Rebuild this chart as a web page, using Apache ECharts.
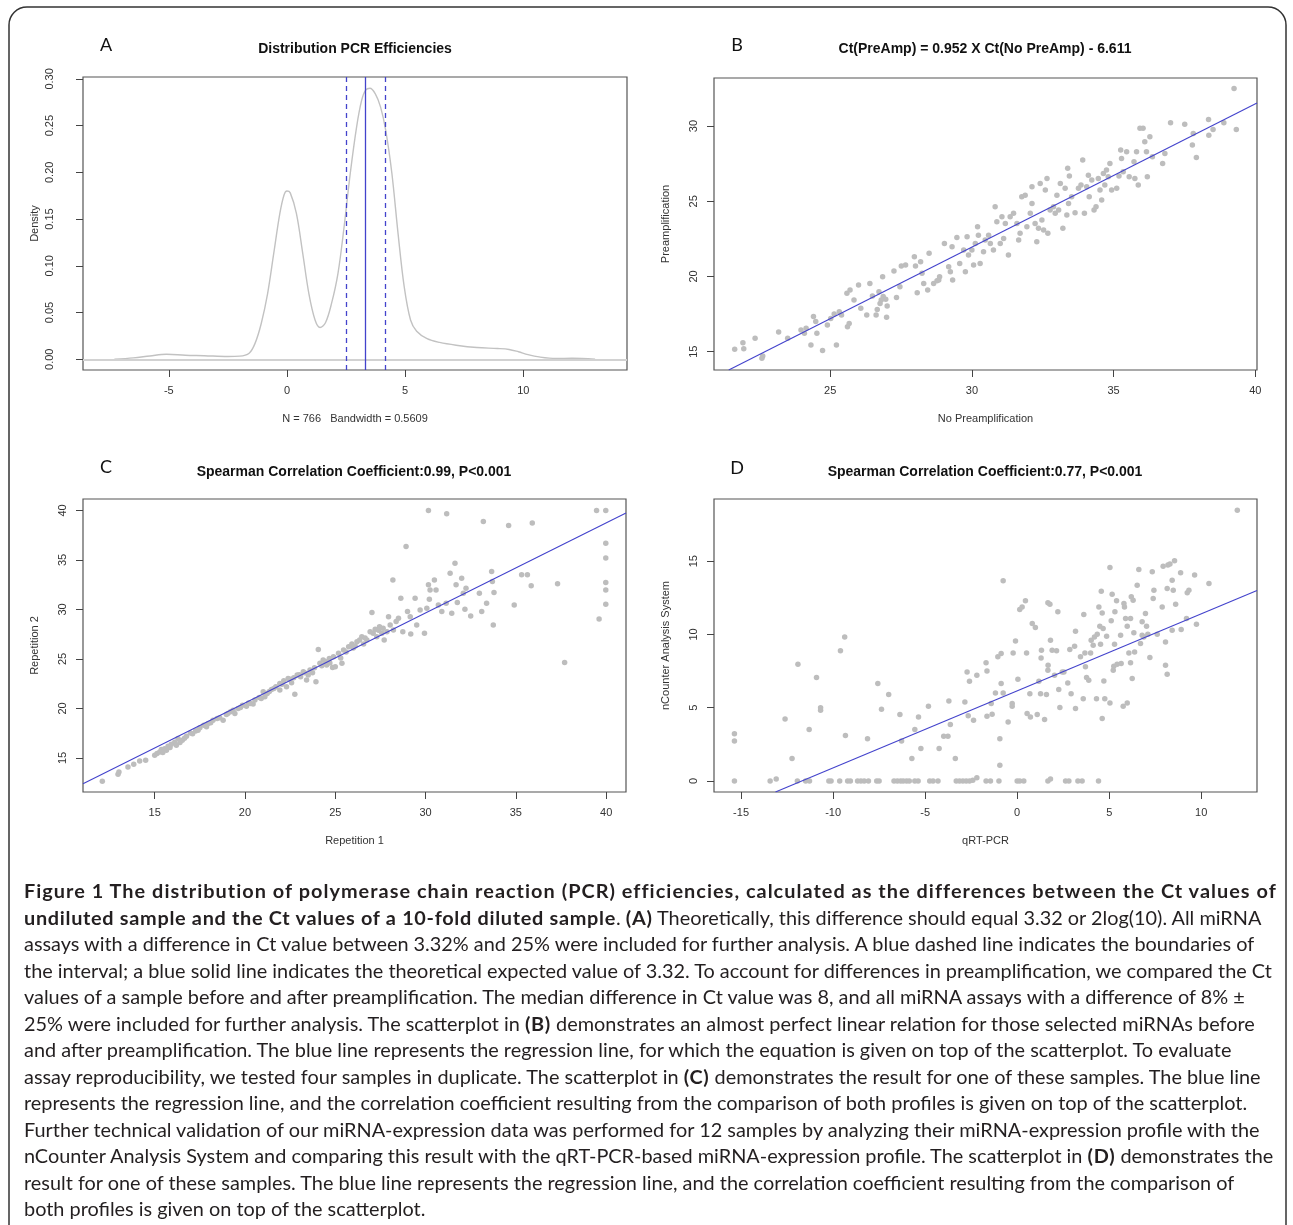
<!DOCTYPE html>
<html>
<head>
<meta charset="utf-8">
<title>Figure 1</title>
<script src="https://cdn.jsdelivr.net/npm/echarts@6/dist/echarts.min.js"></script>
<style>
  html, body { margin: 0; padding: 0; background: #fff; }
  #wrap { position: relative; width: 1293px; height: 1225px; overflow: hidden; }
  #chart { position: absolute; left: 0; top: 0; width: 1293px; height: 1225px; }
  #caption {
    position: absolute; left: 24px; top: 877px;
    font-family: Lato, "Open Sans", sans-serif; font-size: 19px; color: #231f20;
  }
  #caption .ln { height: 26.5px; line-height: 26.5px; white-space: nowrap; }
  #caption .ln span { display: inline; }
  #caption b { font-weight: 700; }
</style>
</head>
<body>
<div id="wrap">
  <div id="chart"></div>
  <div id="caption"></div>
</div>
<script>
// ---- panel A: density of PCR efficiencies ----
const densityX = [-7.3, -6.5, -5.8, -5.1, -4.3, -3.5, -2.5, -2.0, -1.6, -1.35, -1.09, -0.82, -0.56, -0.3, -0.12, 0, 0.14, 0.4, 0.67, 0.93, 1.19, 1.4, 1.63, 1.89, 2.16, 2.42, 2.68, 2.95, 3.16, 3.33, 3.51, 3.74, 3.96, 4.18, 4.44, 4.7, 4.96, 5.23, 5.49, 5.93, 6.46, 7.16, 8.04, 8.91, 9.4, 9.8, 10.2, 10.67, 11.37, 12.07, 13.04];
const densityY = [0, 0.0015, 0.0035, 0.0053, 0.0043, 0.0038, 0.003, 0.0033, 0.0064, 0.017, 0.038, 0.07, 0.113, 0.156, 0.176, 0.18, 0.178, 0.156, 0.113, 0.07, 0.042, 0.034, 0.039, 0.06, 0.092, 0.142, 0.199, 0.249, 0.277, 0.288, 0.29, 0.284, 0.27, 0.245, 0.199, 0.135, 0.078, 0.042, 0.03, 0.022, 0.018, 0.015, 0.0125, 0.0115, 0.0105, 0.008, 0.005, 0.0025, 0.0008, 0.001, 0];
const effBounds = [2.49, 4.15];
const effExpected = 3.32;
const ticksAx = [-5, 0, 5, 10];
const ticksAy = [0, 0.05, 0.1, 0.15, 0.2, 0.25, 0.3];

// ---- panel B: no preamp vs preamp ----
const preampPoints = [
  [21.63,15.16],[21.92,15.6],[21.95,15.2],[22.35,15.89],[22.62,14.71],[22.59,14.56],[23.18,16.31],[23.5,15.89],[23.97,16.44],[24.15,16.55],
  [24.09,16.22],[24.32,15.44],[24.41,17.33],[24.49,17.0],[24.53,16.22],[24.73,15.07],[24.9,16.77],[25.02,17.2],[25.14,17.5],[25.22,15.44],
  [25.32,17.66],[25.4,17.44],[25.61,16.66],[25.67,16.88],[25.59,18.88],[25.7,19.1],[25.84,18.43],[26.0,19.43],[26.08,17.88],[26.29,17.44],
  [26.4,19.54],[26.49,18.7],[26.62,17.44],[26.66,17.81],[26.72,18.99],[26.8,18.43],[26.87,18.66],[26.85,19.99],[26.99,17.28],[27.01,18.04],
  [27.25,20.36],[27.34,18.61],[27.46,19.32],[27.51,20.69],[27.66,20.76],[27.97,21.32],[28.01,20.69],[28.07,18.92],[28.19,20.98],[28.24,20.21],
  [28.3,19.54],[28.44,19.1],[28.49,21.54],[28.65,19.54],[28.83,19.76],[28.86,19.99],[29.03,22.2],[29.18,20.65],[29.24,20.32],[29.32,19.76],
  [29.3,21.98],[29.47,22.6],[29.57,20.87],[29.71,21.76],[29.77,20.32],[29.83,22.64],[29.88,21.43],[26.76,18.2],[26.96,18.48],[28.77,19.72],
  [30.2,23.31],
  [30.0,21.76],[30.06,20.76],[30.12,22.2],[30.23,22.75],[30.29,20.87],[30.41,21.65],[30.47,22.42],[30.59,22.75],[30.65,22.2],[30.76,21.76],
  [30.82,24.64],[30.88,23.64],[31.0,22.2],[31.06,23.98],[31.12,22.53],[31.18,23.53],[31.29,21.43],[31.35,23.98],[31.47,24.2],[31.59,23.53],
  [31.65,22.42],[31.7,22.87],[31.76,25.3],[31.88,25.41],[31.94,23.31],[32.06,24.2],[32.12,24.86],[32.12,25.97],[32.23,23.53],[32.29,22.31],
  [32.35,23.2],[32.41,26.19],[32.47,23.75],[32.53,23.09],[32.59,25.75],[32.65,26.52],[32.68,22.87],[32.76,24.42],[32.88,24.64],[32.94,24.2],
  [33.0,25.41],[33.06,24.42],[33.12,26.19],[33.21,23.2],[33.29,25.86],[33.35,24.09],[33.38,27.19],[33.41,24.86],[33.44,26.68],[33.52,25.3],
  [33.64,24.24],[33.76,25.86],[33.85,26.08],[33.91,27.74],[33.97,24.2],[34.05,25.97],[34.11,26.74],[34.14,25.3],[34.23,26.41],[34.31,24.42],
  [34.38,24.64],[34.46,26.52],[34.52,25.75],[34.58,25.08],[34.64,26.85],[34.69,26.08],[34.75,27.08],[34.81,26.63],[34.87,27.52],[34.93,25.75],
  [35.11,25.86],[35.19,26.68],[35.25,28.41],[35.28,27.85],[35.34,26.97],[35.46,28.29],[35.55,26.63],[35.72,27.63],[35.75,26.52],[35.81,28.29],
  [35.87,26.08],[35.93,29.85],[36.04,29.85],[36.1,28.96],[36.16,28.29],[36.19,26.63],[36.28,29.29],[36.37,27.96],[36.73,27.52],[36.81,28.18],
  [37.01,30.22],[37.51,30.13],[37.78,28.74],[37.81,29.51],[37.92,27.92],[38.35,30.44],[38.36,29.4],[38.51,29.78],[38.89,30.22],[39.25,32.5],
  [39.33,29.78]
];
const preampFit = [[21.42, 13.78], [40.06, 31.53]];
const ticksBx = [25, 30, 35, 40];
const ticksBy = [15, 20, 25, 30];

// ---- panel C: repetition 1 vs repetition 2 ----
const repPoints = [
  [12.1,12.64],[12.97,13.35],[13.02,13.58],[13.52,14.09],[13.84,14.36],[14.17,14.7],[14.5,14.76],[15.0,15.27],[15.13,15.44],[15.28,15.61],
  [15.37,15.84],[15.55,15.94],[15.65,15.78],[15.74,16.18],[15.92,16.38],[16.11,16.59],[16.2,16.28],[16.29,16.96],[16.53,16.79],[16.76,17.19],
  [16.98,17.53],[17.27,17.73],[17.5,18.04],[17.72,18.31],[17.87,18.14],[17.96,18.47],[18.23,18.81],[18.46,18.98],[18.79,18.81],[18.97,19.39],
  [19.2,19.66],[19.34,19.82],[19.44,19.49],[19.62,19.99],[19.86,20.33],[20.08,20.23],[20.3,20.5],[20.55,20.84],[20.79,21.11],[21.01,21.68],
  [21.1,21.17],[21.23,21.51],[21.47,21.92],[21.71,22.19],[21.93,21.85],[21.93,22.52],[22.15,22.79],[22.3,22.19],[22.39,23.03],[22.58,22.59],
  [22.76,21.44],[22.89,23.37],[23.08,23.2],[23.23,23.7],[23.41,22.86],[23.5,23.37],[23.6,23.87],[23.74,23.6],[23.93,22.69],[24.06,25.96],
  [24.15,24.55],[24.33,24.89],[24.52,24.38],[24.67,25.05],[24.85,24.14],
  [15.45,15.55],[15.85,16.05],[16.4,16.55],[16.65,17.0],[17.1,17.45],[17.4,17.8],[18.1,18.55],[18.6,19.05],[19.05,19.5],[19.75,20.1],
  [20.2,20.55],[20.45,20.45],[20.9,21.0],[21.35,21.7],[21.6,22.0],[22.05,22.45],[22.5,22.95],[22.7,23.1],[23.0,23.4],[23.3,23.6],
  [23.85,24.1],[24.25,24.3],[24.45,24.75],[24.7,24.6],
  [24.9,25.22],[25.0,24.21],[25.18,25.56],[25.37,24.55],[25.46,25.9],[25.74,26.23],[25.92,26.5],[26.2,26.74],[26.47,27.25],[26.57,26.5],
  [26.75,26.91],[26.93,27.75],[27.03,29.68],[27.21,27.99],[27.3,27.25],[27.45,28.26],[27.58,27.58],[27.71,26.91],[27.86,27.75],[27.95,29.27],
  [28.04,28.43],[28.19,32.98],[28.22,27.92],[28.37,28.77],[28.5,29.1],[28.63,31.13],[28.74,27.75],[28.92,36.36],[29.0,29.78],[29.15,29.27],
  [29.18,27.52],[29.42,31.13],[29.51,28.43],[29.7,29.95],[29.94,27.58],[30.07,30.12],[30.16,32.48],[30.21,31.03],[30.25,31.97],[30.16,40.0],
  [30.49,32.98],[30.58,31.97],[30.71,30.45],[30.9,29.78],[31.14,30.62],[31.17,39.66],[31.36,33.66],[31.45,29.61],[31.63,34.67],[31.69,32.48],
  [31.76,30.69],[32.0,33.15],[32.09,31.63],[32.18,30.01],[32.24,32.14],[32.5,29.34],[32.98,31.63],[33.11,29.78],[33.2,38.89],[33.38,30.62],
  [33.66,33.83],[33.7,32.81],[33.75,28.43],[33.79,31.7],[34.6,38.48],[34.91,30.45],[35.32,33.49],[35.64,33.49],[35.85,32.38],[35.91,38.72],
  [37.31,32.58],[37.7,24.65],[39.47,40.0],[39.61,29.04],[39.98,40.0],[39.98,36.69],[39.98,35.18],[39.98,32.71],[39.98,31.97],[39.98,30.52],
  [25.6,25.7],[26.0,26.1],[26.35,26.9],[26.65,27.1],[27.1,27.6],[27.4,27.9],[27.65,28.1],[26.1,26.3],[25.3,25.1]
];
const repFit = [[11.03, 12.40], [41.10, 39.74]];
const ticksCx = [15, 20, 25, 30, 35, 40];
const ticksCy = [15, 20, 25, 30, 35, 40];

// ---- panel D: qRT-PCR vs nCounter ----
const ncounterPoints = [
  [-15.36,0],[-15.36,2.73],[-15.36,3.23],[-13.42,0],[-13.09,0.14],[-12.61,4.23],[-12.23,1.53],[-11.94,0],[-11.91,7.97],[-11.49,0],
  [-11.28,0],[-11.3,3.51],[-10.9,7.06],[-10.68,4.83],[-10.68,5.0],[-10.23,0],[-10.11,0],[-9.64,0],[-9.6,8.88],[-9.37,9.83],
  [-9.33,3.1],[-9.21,0],[-9.06,0],[-8.67,0],[-8.49,0],[-8.31,0],[-8.13,2.89],[-8.08,0],[-7.63,0],[-7.5,0],
  [-7.57,6.65],[-7.37,4.89],[-6.98,5.9],[-6.69,0],[-6.51,0],[-6.37,4.53],[-6.33,0],[-6.19,0],[-6.01,0],[-5.86,0],
  [-6.28,2.73],[-5.72,1.53],[-5.56,3.51],[-5.56,0],[-5.38,0],[-5.36,4.37],[-5.23,2.21],[-4.82,5.1],[-4.75,0],[-4.57,0],
  [-4.3,0],[-4.24,2.21],[-3.99,3.05],[-3.76,3.05],[-3.71,5.46],[-3.63,3.85],[-3.36,1.53],[-3.31,0],[-3.13,0],[-2.95,0],
  [-2.77,0],[-2.59,0],[-2.41,0.05],[-2.19,0.23],[-2.84,5.39],[-2.72,7.44],[-2.59,6.81],[-2.66,4.46],[-2.37,4.14],[-2.19,7.22],
  [-1.69,8.06],[-1.64,7.51],[-1.64,4.42],[-1.69,0],[-1.45,0],[-0.99,0],
  [-1.41,5.28],[-1.36,4.55],[-1.18,6.01],[-1.05,8.47],[-0.94,2.89],[-0.94,1.07],[-0.87,6.65],[-0.87,8.7],[-0.76,13.66],[-0.76,6.01],
  [-0.49,4.03],[-0.22,8.74],[-0.27,5.28],[-0.27,5.1],[-0.09,9.56],[0,0],[0.14,0],[0.04,6.94],[0.14,11.7],[0.27,11.88],
  [0.36,0],[0.45,12.29],[0.51,8.74],[0.54,4.6],[0.72,4.37],[0.69,5.96],[0.82,10.74],[0.99,10.47],[1.09,4.53],[1.18,6.81],
  [1.27,5.96],[1.32,8.92],[1.3,8.4],[1.49,4.19],[1.59,5.9],[1.67,0],[1.81,0.14],[1.67,12.16],[1.78,12.06],[1.68,7.9],
  [1.67,7.56],[1.81,9.61],[1.9,8.92],[2.03,7.22],[2.14,8.88],[2.21,11.54],[2.26,6.24],[2.32,5.01],[2.45,7.44],[2.54,7.44],
  [2.63,0],[2.81,0],[2.75,6.69],[2.86,8.97],[2.93,5.96],[3.12,9.2],[3.17,4.94],[3.17,10.22],[3.3,0],[3.53,0],
  [3.44,8.47],[3.59,5.62],[3.62,11.36],[3.68,8.74],[3.71,7.79],[3.77,7.06],[3.89,6.87],[3.99,8.74],[4.02,9.61],[4.13,9.26],
  [4.2,9.83],[4.31,5.62],[4.35,10.02],[4.42,0],[4.44,11.88],[4.49,10.56],[4.53,9.33],[4.57,12.95],[4.62,11.47],[4.67,10.4],
  [4.71,6.83],[4.76,5.62],[4.62,4.26],[4.86,9.88],[5.04,5.33],[5.04,14.57],[5.11,10.93],[5.16,12.75],[5.22,7.56],[5.25,7.83],
  [5.29,9.33],[5.31,11.54],[5.4,12.29],[5.43,7.97],[5.62,9.95],[5.65,8.01],[5.76,5.1],[5.8,12.11],[5.83,11.88],[5.89,11.09],
  [5.98,5.33],[5.98,10.56],[6.07,8.74],[6.16,11.09],[6.16,8.06],[6.2,12.57],[6.25,6.99],[6.3,12.34],[6.34,10.11],[6.38,8.81],
  [6.52,13.36],[6.61,14.43],[6.7,9.38],[6.79,9.95],[6.79,10.86],[6.88,9.83],[6.97,11.43],[7.03,10.56],[7.1,10.02],[7.21,8.42],
  [7.34,14.27],[7.39,12.45],[7.43,13.02],[7.61,10.02],[7.88,11.88],[7.93,14.66],[8.06,9.49],[8.06,7.9],[8.15,7.28],[8.19,14.73],
  [8.15,13.13],[8.3,14.8],[8.42,13.7],[8.48,13.02],[8.55,15.02],[8.61,12.06],[8.88,14.2],[8.91,10.33],[9.24,12.84],[9.33,13.02],
  [9.2,11.09],[9.64,14.05],[9.74,10.7],[10.42,13.48],[11.96,18.48],[8.42,10.29]
];
const ncounterFit = [[-13.13, -0.75], [13.03, 13.00]];
const ticksDx = [-15, -10, -5, 0, 5, 10];
const ticksDy = [0, 5, 10, 15];

// caption lines (bold segments marked with true)
const captionLines = [
  [["Figure 1 The distribution of polymerase chain reaction (PCR) efficiencies, calculated as the differences between the Ct values of", true]],
  [["undiluted sample and the Ct values of a 10-fold diluted sample", true], [". ", false], ["(A)", true], [" Theoretically, this difference should equal 3.32 or 2log(10). All miRNA", false]],
  [["assays with a difference in Ct value between 3.32% and 25% were included for further analysis. A blue dashed line indicates the boundaries of", false]],
  [["the interval; a blue solid line indicates the theoretical expected value of 3.32. To account for differences in preamplification, we compared the Ct", false]],
  [["values of a sample before and after preamplification. The median difference in Ct value was 8, and all miRNA assays with a difference of 8% \u00b1", false]],
  [["25% were included for further analysis. The scatterplot in ", false], ["(B)", true], [" demonstrates an almost perfect linear relation for those selected miRNAs before", false]],
  [["and after preamplification. The blue line represents the regression line, for which the equation is given on top of the scatterplot. To evaluate", false]],
  [["assay reproducibility, we tested four samples in duplicate. The scatterplot in ", false], ["(C)", true], [" demonstrates the result for one of these samples. The blue line", false]],
  [["represents the regression line, and the correlation coefficient resulting from the comparison of both profiles is given on top of the scatterplot.", false]],
  [["Further technical validation of our miRNA-expression data was performed for 12 samples by analyzing their miRNA-expression profile with the", false]],
  [["nCounter Analysis System and comparing this result with the qRT-PCR-based miRNA-expression profile. The scatterplot in ", false], ["(D)", true], [" demonstrates the", false]],
  [["result for one of these samples. The blue line represents the regression line, and the correlation coefficient resulting from the comparison of", false]],
  [["both profiles is given on top of the scatterplot.", false]]
];

// ---------------------------------------------------------------
const BLUE = "#4343cc";
const PT_GRAY = "#bdbdbd";
const AX_FONT = "Liberation Sans";

const grids = [
  { left: 83, top: 77, width: 544, height: 293 },
  { left: 714, top: 78, width: 543, height: 292 },
  { left: 83, top: 499, width: 543, height: 293 },
  { left: 714, top: 499, width: 543, height: 293 }
];

function xAx(gi, min, max, ticks, name) {
  return {
    type: "value", gridIndex: gi, min, max,
    axisLine: { show: false, onZero: false },
    splitLine: { show: false },
    axisTick: { show: true, inside: false, length: 7, customValues: ticks, lineStyle: { color: "#444" } },
    axisLabel: { customValues: ticks, margin: 15, color: "#333", fontSize: 11, fontFamily: AX_FONT },
    name, nameLocation: "middle", nameGap: 43,
    nameTextStyle: { color: "#333", fontSize: 11, fontFamily: AX_FONT }
  };
}
function yAx(gi, min, max, ticks, name, fmt, margin) {
  return {
    type: "value", gridIndex: gi, min, max,
    axisLine: { show: false, onZero: false },
    splitLine: { show: false },
    axisTick: { show: true, inside: false, length: 7, customValues: ticks, lineStyle: { color: "#444" } },
    axisLabel: { customValues: ticks, rotate: 90, margin: margin || 15, color: "#333", fontSize: 11, fontFamily: AX_FONT, formatter: fmt },
    name, nameLocation: "middle", nameGap: 43, nameRotate: 90,
    nameTextStyle: { color: "#333", fontSize: 11, fontFamily: AX_FONT }
  };
}

function scatter(i, data) {
  return {
    type: "scatter", xAxisIndex: i, yAxisIndex: i, data,
    symbol: "circle", symbolSize: 5.5,
    itemStyle: { color: PT_GRAY, opacity: 1 }, silent: true
  };
}
function fitLine(i, data) {
  return {
    type: "line", xAxisIndex: i, yAxisIndex: i, data, clip: true,
    showSymbol: false, silent: true,
    lineStyle: { color: BLUE, width: 1.1 }, z: 3
  };
}

function label(x, y, text, font) {
  return { type: "text", x, y, silent: true,
    style: { text, font, fill: "#111", align: "center", verticalAlign: "middle" } };
}

const chart = echarts.init(document.getElementById("chart"), null, { renderer: "canvas" });

const option = {
  animation: false,
  backgroundColor: "#fff",
  grid: grids.map(g => Object.assign({ show: true, borderColor: "#555", borderWidth: 1.2, backgroundColor: "transparent" }, g)),
  xAxis: [
    xAx(0, -8.63, 14.39, ticksAx, "N = 766   Bandwidth = 0.5609"),
    xAx(1, 20.9, 40.06, ticksBx, "No Preamplification"),
    xAx(2, 11.03, 41.1, ticksCx, "Repetition 1"),
    xAx(3, -16.47, 13.03, ticksDx, "qRT-PCR")
  ],
  yAxis: [
    yAx(0, -0.0115, 0.302, ticksAy, "Density", v => v.toFixed(2), 28),
    yAx(1, 13.78, 33.2, ticksBy, "Preamplification"),
    yAx(2, 11.56, 41.15, ticksCy, "Repetition 2"),
    yAx(3, -0.75, 19.24, ticksDy, "nCounter Analysis System")
  ],
  series: [
    {
      type: "line", xAxisIndex: 0, yAxisIndex: 0,
      data: densityX.map((x, i) => [x, densityY[i]]),
      showSymbol: false, smooth: 0.35, silent: true,
      lineStyle: { color: "#c2c2c2", width: 1.4 },
      markLine: {
        silent: true, symbol: "none", animation: false,
        label: { show: false },
        data: [
          { yAxis: 0, lineStyle: { color: "#d2d2d2", width: 2, type: "solid" } },
          { xAxis: effBounds[0], lineStyle: { color: BLUE, width: 1.3, type: [5, 4] } },
          { xAxis: effBounds[1], lineStyle: { color: BLUE, width: 1.3, type: [5, 4] } },
          { xAxis: effExpected, lineStyle: { color: BLUE, width: 1.3, type: "solid" } }
        ]
      }
    },
    scatter(1, preampPoints), fitLine(1, preampFit),
    scatter(2, repPoints), fitLine(2, repFit),
    scatter(3, ncounterPoints), fitLine(3, ncounterFit)
  ],
  graphic: [
    { type: "rect", silent: true, shape: { x: 9, y: 7, width: 1277, height: 1260, r: 18 },
      style: { fill: "none", stroke: "#333", lineWidth: 1.5 } },
    label(106, 45, "A", "18px Lato"),
    label(737, 45, "B", "18px Lato"),
    label(106, 467, "C", "18px Lato"),
    label(737, 468, "D", "18px Lato"),
    label(355, 49, "Distribution PCR Efficiencies", "bold 14px 'Liberation Sans'"),
    label(985, 49, "Ct(PreAmp) = 0.952 X Ct(No PreAmp) - 6.611", "bold 14px 'Liberation Sans'"),
    label(354, 472, "Spearman Correlation Coefficient:0.99, P<0.001", "bold 14px 'Liberation Sans'"),
    label(985, 472, "Spearman Correlation Coefficient:0.77, P<0.001", "bold 14px 'Liberation Sans'")
  ]
};
chart.setOption(option);

// caption as real text
const cap = document.getElementById("caption");
captionLines.forEach(segs => {
  const ln = document.createElement("div");
  ln.className = "ln";
  const inner = document.createElement("span");
  segs.forEach(([t, bold]) => {
    const el = document.createElement(bold ? "b" : "span");
    el.textContent = t;
    inner.appendChild(el);
  });
  ln.appendChild(inner);
  cap.appendChild(ln);
});
// scale font so the third line spans the same width as in the figure
const probe = cap.children[2].firstChild;
const w = probe.getBoundingClientRect().width;
if (w > 0) cap.style.fontSize = (19 * 1231 / w).toFixed(2) + "px";
// the bold face in the figure runs a little wider: spread it to match
function spread(el, target) {
  el.style.letterSpacing = "0px";
  const wEl = el.getBoundingClientRect().width;
  const n = el.textContent.length;
  if (wEl > 0) el.style.letterSpacing = Math.max(0, (target - wEl) / n).toFixed(3) + "px";
  return el.style.letterSpacing;
}
const boldAll = cap.querySelectorAll("b");
const lsGeneral = spread(cap.children[1].firstChild.firstChild, 592);
boldAll.forEach(b => { b.style.letterSpacing = lsGeneral; });
spread(cap.children[0].firstChild.firstChild, 1252);
</script>
</body>
</html>
